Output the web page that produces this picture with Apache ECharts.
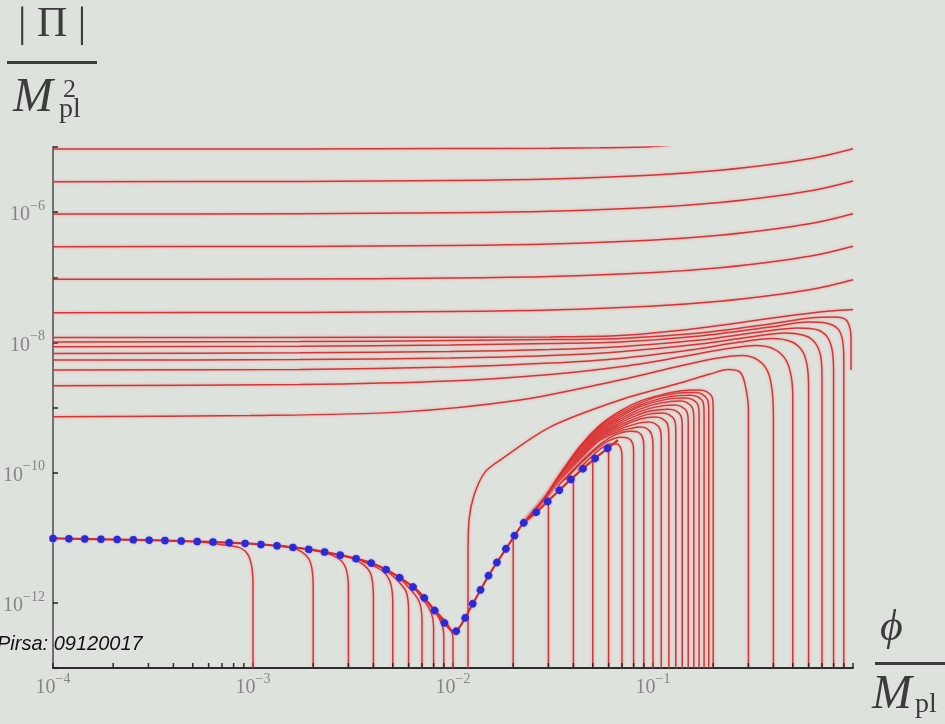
<!DOCTYPE html>
<html>
<head>
<meta charset="utf-8">
<title>|Pi| vs phi</title>
<script src="https://cdn.jsdelivr.net/npm/echarts@6/dist/echarts.min.js"></script>
<style>
html, body { margin: 0; padding: 0; background: #dee2dd; }
#chart { width: 945px; height: 724px; }
</style>
</head>
<body>
<div id="chart"></div>
<script>
// every point is [log10(phi / Mpl), log10(|Pi| / Mpl^2)]
var xLabelExps = [-4, -3, -2, -1];
var yLabelExps = [-6, -8, -10, -12];
var minorTicksX = [2e-4, 3e-4, 4e-4, 5e-4, 6e-4, 7e-4, 8e-4, 9e-4,
  2e-3, 3e-3, 4e-3, 5e-3, 6e-3, 7e-3, 8e-3, 9e-3,
  2e-2, 3e-2, 4e-2, 5e-2, 6e-2, 7e-2, 8e-2, 9e-2,
  2e-1, 3e-1, 4e-1, 5e-1, 6e-1, 7e-1, 8e-1, 9e-1];

// nearly flat lines at the top
var upperFamily = [
  [[-4, -5.031], [-2.765, -5.029], [-2.015, -5.024], [-1.515, -5.018], [-1.265, -5.012], [-1.015, -4.995], [-0.9, -4.97]],
  [[-4, -5.533], [-2.765, -5.528], [-2.015, -5.513], [-1.515, -5.490], [-1.015, -5.433], [-0.665, -5.356], [-0.365, -5.249], [-0.165, -5.149], [0, -5.026]],
  [[-4, -6.029], [-2.765, -6.024], [-2.015, -6.009], [-1.515, -5.986], [-1.015, -5.929], [-0.665, -5.852], [-0.365, -5.745], [-0.165, -5.645], [0, -5.522]],
  [[-4, -6.531], [-2.765, -6.526], [-2.015, -6.511], [-1.515, -6.488], [-1.015, -6.431], [-0.665, -6.354], [-0.365, -6.247], [-0.165, -6.147], [0, -6.024]],
  [[-4, -7.032], [-2.765, -7.027], [-2.015, -7.012], [-1.515, -6.989], [-1.015, -6.932], [-0.665, -6.855], [-0.365, -6.748], [-0.165, -6.648], [0, -6.525]],
  [[-4, -7.545], [-2.765, -7.540], [-2.015, -7.525], [-1.515, -7.502], [-1.015, -7.445], [-0.665, -7.368], [-0.365, -7.261], [-0.165, -7.161], [0, -7.038]],
  [[-4, -7.926], [-2.265, -7.923], [-1.515, -7.916], [-1.165, -7.896], [-0.765, -7.780], [-0.365, -7.611], [-0.115, -7.519], [0, -7.496]]
];

// start near phi0 = 0.3 ... 1, rise and run left
var rightFamily = [
  [[-4, -7.995], [-2.765, -7.988], [-2.015, -7.972], [-1.515, -7.957], [-1.165, -7.939], [-0.765, -7.857], [-0.415, -7.718], [-0.19, -7.619], [-0.09, -7.611], [-0.04, -7.642], [-0.02, -7.734], [-0.01, -7.903], [-0.01, -8.425]],
  [[-4, -8.068], [-2.765, -8.060], [-2.015, -8.041], [-1.515, -8.018], [-1.165, -7.995], [-0.765, -7.903], [-0.415, -7.765], [-0.225, -7.688], [-0.135, -7.703], [-0.075, -7.795], [-0.0525, -7.965], [-0.046, -8.272], [-0.046, -13]],
  [[-4, -8.169], [-2.765, -8.161], [-2.015, -8.141], [-1.515, -8.111], [-1.165, -8.068], [-0.765, -7.965], [-0.465, -7.841], [-0.275, -7.780], [-0.175, -7.811], [-0.125, -7.934], [-0.1025, -8.149], [-0.097, -8.502], [-0.097, -13]],
  [[-4, -8.272], [-2.765, -8.264], [-2.015, -8.241], [-1.515, -8.203], [-1.165, -8.144], [-0.765, -8.026], [-0.515, -7.918], [-0.34, -7.857], [-0.235, -7.903], [-0.185, -8.026], [-0.16, -8.241], [-0.155, -8.579], [-0.155, -13]],
  [[-4, -8.425], [-2.765, -8.415], [-2.015, -8.379], [-1.515, -8.318], [-1.165, -8.246], [-0.815, -8.118], [-0.565, -7.995], [-0.405, -7.942], [-0.305, -7.995], [-0.25, -8.149], [-0.2275, -8.395], [-0.222, -8.733], [-0.222, -13]],
  [[-4, -8.667], [-2.765, -8.648], [-2.015, -8.594], [-1.515, -8.495], [-1.165, -8.375], [-0.865, -8.226], [-0.64, -8.103], [-0.485, -8.049], [-0.395, -8.103], [-0.335, -8.272], [-0.3075, -8.548], [-0.301, -8.886], [-0.301, -13]],
  [[-4, -9.143], [-3.015, -9.124], [-2.265, -9.071], [-1.665, -8.886], [-1.165, -8.579], [-0.865, -8.364], [-0.675, -8.241], [-0.555, -8.203], [-0.475, -8.272], [-0.425, -8.456], [-0.4035, -8.764], [-0.398, -9.194], [-0.398, -13]]
];

// arch from phi ~ 0.012 over to phi = 0.3
var archCurve = [[-1.925, -13], [-1.925, -11.344], [-1.92, -10.730], [-1.895, -10.346], [-1.84, -9.992], [-1.765, -9.808], [-1.515, -9.301], [-1.165, -8.886], [-0.865, -8.625], [-0.715, -8.487], [-0.625, -8.418], [-0.565, -8.456], [-0.54, -8.641], [-0.523, -9.040], [-0.523, -13]];

// attractor (red solid under the blue dots)
var attractor = [[-4, -11.011], [-3.515, -11.037], [-3.265, -11.060], [-3.015, -11.091], [-2.765, -11.160], [-2.6, -11.244], [-2.43, -11.367], [-2.315, -11.521], [-2.18, -11.805], [-2.08, -12.158], [-1.995, -12.450], [-1.90, -12.005], [-1.815, -11.544], [-1.73, -11.145], [-1.65, -10.783], [-1.58, -10.599], [-1.53, -10.453], [-1.415, -10.115], [-1.30, -9.808], [-1.175, -9.501]];

// phi0 = 0.001 ... 0.01
var lowFamily = [
  [[-3, -13], [-3, -11.728], [-3.0075, -11.421], [-3.03, -11.237], [-3.075, -11.144], [-3.155, -11.106], [-3.265, -11.060]],
  [[-2.699, -13], [-2.699, -11.728], [-2.705, -11.483], [-2.72, -11.329], [-2.755, -11.221], [-2.815, -11.144], [-2.89, -11.114]],
  [[-2.523, -13], [-2.523, -11.805], [-2.5275, -11.575], [-2.5425, -11.421], [-2.575, -11.313], [-2.64, -11.229], [-2.715, -11.183]],
  [[-2.398, -13], [-2.398, -11.882], [-2.4025, -11.682], [-2.415, -11.529], [-2.445, -11.421], [-2.505, -11.313], [-2.565, -11.267]],
  [[-2.301, -13], [-2.301, -12.005], [-2.305, -11.805], [-2.3175, -11.651], [-2.345, -11.529], [-2.395, -11.436], [-2.455, -11.360]],
  [[-2.222, -13], [-2.222, -12.143], [-2.225, -11.959], [-2.235, -11.820], [-2.26, -11.713], [-2.30, -11.590], [-2.355, -11.452]],
  [[-2.155, -13], [-2.155, -12.265], [-2.16, -12.081], [-2.175, -11.943], [-2.205, -11.820], [-2.255, -11.651]],
  [[-2.097, -13], [-2.097, -12.388], [-2.1025, -12.219], [-2.12, -12.081], [-2.155, -11.928], [-2.205, -11.728]],
  [[-2.046, -13], [-2.046, -12.496], [-2.0525, -12.358], [-2.07, -12.235], [-2.105, -12.081], [-2.155, -11.897]],
  [[-2, -13], [-2, -12.542], [-2.01, -12.419], [-2.035, -12.296], [-2.08, -12.143]]
];

// phi0 = 0.02 ... 0.09
var midFamily = [
  [[-1.699, -13], [-1.699, -11.006]],
  [[-1.523, -13], [-1.523, -10.453]],
  [[-1.398, -13], [-1.398, -10.085]],
  [[-1.301, -13], [-1.301, -9.823]],
  [[-1.222, -13], [-1.222, -9.624]],
  [[-1.155, -13], [-1.155, -9.777], [-1.16, -9.639], [-1.18, -9.562], [-1.215, -9.562], [-1.265, -9.639], [-1.315, -9.777], [-1.375, -9.962]],
  [[-1.097, -13], [-1.097, -9.685], [-1.1025, -9.547], [-1.125, -9.470], [-1.165, -9.455], [-1.225, -9.516], [-1.29, -9.654], [-1.365, -9.869], [-1.44, -10.115]],
  [[-1.046, -13], [-1.046, -9.593], [-1.0525, -9.455], [-1.075, -9.378], [-1.115, -9.363], [-1.18, -9.409], [-1.25, -9.532], [-1.325, -9.731], [-1.405, -9.977], [-1.475, -10.207]]
];

// phi0 = 0.10 ... 0.20, the dense dome
var domeFamily = [
  [[-1, -13], [-1, -9.578], [-1.0075, -9.409], [-1.03, -9.324], [-1.065, -9.301], [-1.115, -9.324], [-1.165, -9.363], [-1.265, -9.501], [-1.365, -9.793], [-1.465, -10.115], [-1.54, -10.407], [-1.63, -10.714]],
  [[-0.9586, -13], [-0.9586, -9.501], [-0.965, -9.332], [-0.99, -9.247], [-1.025, -9.224], [-1.09, -9.255], [-1.165, -9.332], [-1.265, -9.478], [-1.365, -9.773], [-1.465, -10.106], [-1.54, -10.404], [-1.63, -10.714]],
  [[-0.9208, -13], [-0.9208, -9.486], [-0.9275, -9.255], [-0.955, -9.171], [-0.99, -9.147], [-1.065, -9.178], [-1.165, -9.301], [-1.265, -9.455], [-1.365, -9.753], [-1.465, -10.097], [-1.54, -10.401], [-1.63, -10.714]],
  [[-0.8861, -13], [-0.8861, -9.363], [-0.8925, -9.194], [-0.92, -9.109], [-0.955, -9.086], [-1.04, -9.117], [-1.165, -9.270], [-1.265, -9.432], [-1.365, -9.733], [-1.465, -10.088], [-1.54, -10.398], [-1.63, -10.714]],
  [[-0.8539, -13], [-0.8539, -9.301], [-0.86, -9.132], [-0.8875, -9.048], [-0.925, -9.025], [-1.015, -9.055], [-1.09, -9.132], [-1.165, -9.240], [-1.265, -9.409], [-1.365, -9.713], [-1.465, -10.078], [-1.54, -10.395], [-1.63, -10.714]],
  [[-0.8239, -13], [-0.8239, -9.240], [-0.83, -9.071], [-0.8575, -8.987], [-0.895, -8.963], [-0.99, -8.994], [-1.09, -9.094], [-1.165, -9.209], [-1.265, -9.386], [-1.365, -9.693], [-1.465, -10.069], [-1.54, -10.392], [-1.63, -10.714]],
  [[-0.7959, -13], [-0.7959, -9.178], [-0.8025, -9.010], [-0.83, -8.925], [-0.865, -8.902], [-0.965, -8.933], [-1.065, -9.025], [-1.165, -9.178], [-1.265, -9.363], [-1.365, -9.673], [-1.465, -10.060], [-1.54, -10.389], [-1.63, -10.714]],
  [[-0.7696, -13], [-0.7696, -9.132], [-0.775, -8.963], [-0.8025, -8.879], [-0.84, -8.856], [-0.94, -8.879], [-1.065, -8.987], [-1.165, -9.147], [-1.265, -9.339], [-1.365, -9.653], [-1.465, -10.051], [-1.54, -10.386], [-1.63, -10.714]],
  [[-0.7447, -13], [-0.7447, -9.086], [-0.75, -8.917], [-0.7775, -8.833], [-0.815, -8.810], [-0.915, -8.833], [-1.04, -8.933], [-1.165, -9.117], [-1.265, -9.316], [-1.365, -9.633], [-1.465, -10.041], [-1.54, -10.383], [-1.63, -10.714]],
  [[-0.7212, -13], [-0.7212, -9.048], [-0.7275, -8.879], [-0.755, -8.794], [-0.79, -8.771], [-0.89, -8.787], [-1.015, -8.871], [-1.165, -9.086], [-1.265, -9.293], [-1.365, -9.613], [-1.465, -10.032], [-1.54, -10.380], [-1.63, -10.714]],
  [[-0.699, -13], [-0.699, -9.010], [-0.705, -8.840], [-0.7325, -8.756], [-0.77, -8.733], [-0.865, -8.748], [-0.965, -8.810], [-1.065, -8.902], [-1.165, -9.055], [-1.265, -9.270], [-1.365, -9.593], [-1.465, -10.023], [-1.54, -10.376], [-1.63, -10.714]]
];

function toVal(pts) {
  return pts.map(function (p) { return [Math.pow(10, p[0]), Math.pow(10, p[1])]; });
}

var redLine = {
  color: 'rgba(214,40,40,0.92)',
  width: 1.5,
  shadowColor: 'rgba(236,110,110,0.6)',
  shadowBlur: 3
};

function redSeries(pts) {
  return {
    type: 'line',
    data: toVal(pts),
    showSymbol: false,
    smooth: 0.3,
    silent: true,
    lineStyle: redLine,
    z: 2
  };
}

var labelColor = '#858585';
var labelRich = {
  b: { fontFamily: 'Liberation Serif', fontSize: 20, color: labelColor, lineHeight: 26, verticalAlign: 'bottom' },
  s: { fontFamily: 'Liberation Serif', fontSize: 14, color: labelColor, lineHeight: 26, verticalAlign: 'top' }
};

function expLabel(v, keep) {
  var e = Math.round(Math.log10(v));
  if (keep.indexOf(e) < 0) return '';
  return '{b|10}{s|' + (e < 0 ? '\u2212' : '') + Math.abs(e) + '}';
}

var series = [].concat(upperFamily, rightFamily, [archCurve], midFamily, domeFamily, lowFamily).map(redSeries);

series.push({
  type: 'line',
  data: toVal(attractor),
  showSymbol: false,
  smooth: 0.25,
  silent: true,
  lineStyle: { color: '#d82828', width: 2.2 },
  z: 3
});
series.push({
  type: 'line',
  data: toVal(attractor),
  showSymbol: false,
  smooth: 0.25,
  silent: true,
  lineStyle: {
    color: '#2a2ad6', width: 7.5, type: [0.01, 16], cap: 'round',
    shadowColor: 'rgba(90,90,255,0.6)', shadowBlur: 2
  },
  z: 4
});
series.push({
  type: 'custom',
  silent: true,
  clip: false,
  data: minorTicksX.map(function (v) { return [v, 1e-13]; }),
  renderItem: function (params, api) {
    var p = api.coord([api.value(0), api.value(1)]);
    return {
      type: 'line',
      shape: { x1: p[0], y1: p[1], x2: p[0], y2: p[1] - 5 },
      style: { stroke: '#2b2b2b', lineWidth: 1.5 }
    };
  },
  z: 5
});

var chart = echarts.init(document.getElementById('chart'));
chart.setOption({
  backgroundColor: '#dee2dd',
  animation: false,
  grid: { left: 53, right: 92, top: 147, bottom: 56 },
  xAxis: {
    type: 'log',
    logBase: 10,
    min: 1e-4,
    max: 1,
    axisLine: { onZero: false, lineStyle: { color: '#2b2b2b', width: 2 } },
    axisTick: { inside: true, length: 5, lineStyle: { color: '#2b2b2b', width: 1.5 } },
    splitLine: { show: false },
    axisLabel: {
      margin: 4,
      formatter: function (v) { return expLabel(v, xLabelExps); },
      rich: labelRich
    }
  },
  yAxis: {
    type: 'log',
    logBase: 10,
    min: 1e-13,
    max: 1e-5,
    axisLine: { show: true, onZero: false, lineStyle: { color: '#707070', width: 2 } },
    axisTick: { show: true, inside: true, length: 5, lineStyle: { color: '#222', width: 1.5 } },
    splitLine: { show: false },
    axisLabel: {
      margin: 8,
      formatter: function (v) { return expLabel(v, yLabelExps); },
      rich: labelRich
    }
  },
  graphic: [
    { type: 'text', x: 18, y: 4, style: { text: '| \u03a0 |', font: '42px "Liberation Serif"', fill: '#3c3c3c' } },
    { type: 'rect', shape: { x: 7, y: 61, width: 90, height: 3 }, style: { fill: '#3c3c3c' } },
    { type: 'text', x: 13, y: 74, style: { text: 'M', font: 'italic 48px "Liberation Serif"', fill: '#3c3c3c' } },
    { type: 'text', x: 63, y: 77, style: { text: '2', font: '26px "Liberation Serif"', fill: '#3c3c3c' } },
    { type: 'text', x: 59, y: 96, style: { text: 'pl', font: '28px "Liberation Serif"', fill: '#3c3c3c' } },
    { type: 'text', x: -3, y: 634, style: { text: 'Pirsa: 09120017', font: 'italic 20px "Liberation Sans"', fill: '#111' } },
    { type: 'text', x: 880, y: 606, style: { text: '\u03d5', font: 'italic 44px "Liberation Serif"', fill: '#3c3c3c' } },
    { type: 'rect', shape: { x: 875, y: 662, width: 70, height: 3 }, style: { fill: '#3c3c3c' } },
    { type: 'text', x: 872, y: 671, style: { text: 'M', font: 'italic 48px "Liberation Serif"', fill: '#3c3c3c' } },
    { type: 'text', x: 915, y: 691, style: { text: 'pl', font: '28px "Liberation Serif"', fill: '#3c3c3c' } }
  ],
  series: series
});
</script>
</body>
</html>
